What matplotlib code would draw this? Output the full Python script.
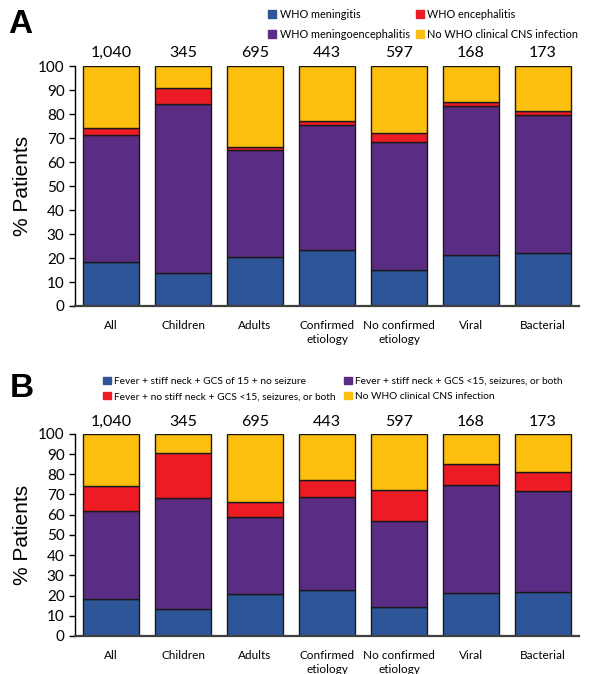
import numpy as np
import matplotlib
matplotlib.use("Agg")
import matplotlib.pyplot as plt
from matplotlib.patches import Patch

plt.rcParams['font.family'] = ['Lato', 'DejaVu Sans']

categories = ["All", "Children", "Adults", "Confirmed\netiology",
              "No confirmed\netiology", "Viral", "Bacterial"]
counts = ["1,040", "345", "695", "443", "597", "168", "173"]

# Panel A (segment percentages, bottom to top)
a_meningitis = [18.4, 13.6, 20.6, 23.3, 14.9, 21.4, 22.0]
a_meningoenc = [52.9, 70.7, 44.4, 52.2, 53.3, 62.0, 57.7]
a_encephalitis = [2.9, 6.4, 1.2, 1.7, 3.9, 1.8, 1.4]
a_none = [25.8, 9.3, 33.8, 22.8, 27.9, 14.8, 18.9]

# Panel B
b_fever_neck_gcs15 = [18.1, 13.4, 20.6, 22.9, 14.5, 21.2, 21.7]
b_fever_neck_gcs_lt15 = [43.7, 54.7, 38.2, 45.7, 42.4, 53.6, 49.9]
b_fever_noneck = [12.2, 22.4, 7.4, 8.4, 15.2, 10.5, 9.4]
b_none = [26.0, 9.5, 33.8, 23.0, 27.9, 14.7, 19.0]

colors = ["#2E5597", "#5B2C83", "#ED1C24", "#FDC010"]

fig = plt.figure(figsize=(6, 6.74), dpi=100)
ax_a = fig.add_axes([0.125, 0.546, 0.84, 0.356])
ax_b = fig.add_axes([0.125, 0.0564, 0.84, 0.300])

x = np.arange(len(categories))


def draw_panel(ax, series):
    bottom = np.zeros(len(categories))
    for vals, c in zip(series, colors):
        ax.bar(x, vals, bottom=bottom, width=0.79, color=c,
               edgecolor="#1a1a1a", linewidth=1.0, zorder=2)
        bottom += np.array(vals)
    ax.set_xlim(-0.5, 6.5)
    ax.set_ylim(0, 100)
    ax.set_yticks(np.arange(0, 101, 10))
    ax.set_xticks(x)
    ax.set_xticklabels(categories, fontsize=8.5, linespacing=1.3)
    ax.tick_params(axis='x', length=0, pad=10)
    ax.tick_params(axis='y', labelsize=11, direction='out', length=4, width=1)
    for s in ["top", "right"]:
        ax.spines[s].set_visible(False)
    ax.spines["left"].set_linewidth(1.0)
    ax.spines["bottom"].set_linewidth(1.6)
    ax.spines["bottom"].set_color("#404040")
    ax.set_ylabel("% Patients", fontsize=15, family=['Liberation Sans', 'DejaVu Sans'],
                  labelpad=4)
    for xi, n in zip(x, counts):
        ax.text(xi, 102.5, n, ha="center", va="bottom", fontsize=11.5)


draw_panel(ax_a, [a_meningitis, a_meningoenc, a_encephalitis, a_none])
draw_panel(ax_b, [b_fever_neck_gcs15, b_fever_neck_gcs_lt15, b_fever_noneck, b_none])

fig.text(0.014, 0.964, "A", fontsize=24, fontweight="bold", va="center",
         family=['Liberation Sans', 'DejaVu Sans'])
fig.text(0.016, 0.423, "B", fontsize=24, fontweight="bold", va="center",
         family=['Liberation Sans', 'DejaVu Sans'])

labels_a = ["WHO meningitis", "WHO meningoencephalitis",
            "WHO encephalitis", "No WHO clinical CNS infection"]
handles_a = [Patch(color=colors[0]), Patch(color=colors[1]),
             Patch(color=colors[2]), Patch(color=colors[3])]
fig.legend(handles_a, labels_a, ncol=2, loc="center left",
           bbox_to_anchor=(0.447, 0.964), frameon=False, fontsize=7.8,
           handlelength=0.7, handleheight=0.7, handletextpad=0.35,
           columnspacing=0.6, labelspacing=0.8, borderpad=0, borderaxespad=0)

labels_b = ["Fever + stiff neck + GCS of 15 + no seizure",
            "Fever + no stiff neck + GCS <15, seizures, or both",
            "Fever + stiff neck + GCS <15, seizures, or both",
            "No WHO clinical CNS infection"]
handles_b = [Patch(color=colors[0]), Patch(color=colors[2]),
             Patch(color=colors[1]), Patch(color=colors[3])]
fig.legend(handles_b, labels_b, ncol=2, loc="center left",
           bbox_to_anchor=(0.172, 0.423), frameon=False, fontsize=7.3,
           handlelength=0.75, handleheight=0.75, handletextpad=0.35,
           columnspacing=0.8, labelspacing=0.6, borderpad=0, borderaxespad=0)

fig.savefig("out.png", dpi=100)
